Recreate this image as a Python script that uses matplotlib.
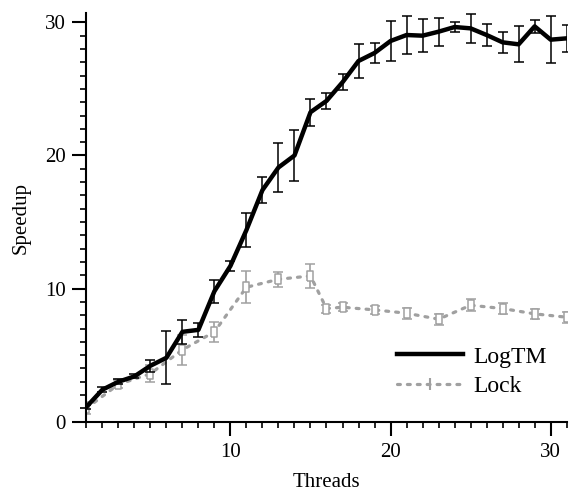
import matplotlib
matplotlib.use("Agg")
import matplotlib.pyplot as plt
from matplotlib.lines import Line2D
from matplotlib.ticker import MultipleLocator

plt.rcParams['font.family'] = ['Liberation Serif', 'DejaVu Serif']

# LogTM: measured at every thread count
logtm_x = list(range(1, 32))
logtm_y = [1.1, 2.4, 3.0, 3.4, 4.2, 4.8, 6.75, 6.9, 9.8, 11.7,
           14.4, 17.4, 19.1, 20.0, 23.25, 24.1, 25.5, 27.1, 27.7, 28.6,
           29.05, 29.0, 29.3, 29.65, 29.55, 29.05, 28.5, 28.35, 29.7, 28.7,
           28.8]
logtm_err = [0.15, 0.2, 0.2, 0.15, 0.45, 2.0, 0.9, 0.5, 0.85, 0.37,
             1.3, 1.0, 1.85, 1.95, 1.0, 0.6, 0.6, 1.3, 0.75, 1.5,
             1.45, 1.25, 1.05, 0.4, 1.1, 0.85, 0.8, 1.35, 0.5, 1.75,
             1.0]

# Lock
lock_x = [1, 3, 5, 7, 9, 11, 13, 15, 16, 17, 19, 21, 23, 25, 27, 29, 31]
lock_y = [1.0, 2.8, 3.6, 5.4, 6.75, 10.1, 10.7, 10.95, 8.5, 8.6,
          8.4, 8.15, 7.7, 8.75, 8.5, 8.1, 7.85]
lock_err = [0.45, 0.3, 0.65, 1.15, 0.75, 1.2, 0.55, 0.9, 0.3, 0.3,
            0.3, 0.4, 0.4, 0.45, 0.4, 0.35, 0.4]

gray = "#a0a0a0"
rect = [(-0.5, -1), (0.5, -1), (0.5, 1), (-0.5, 1), (-0.5, -1)]
lock_ls = (0, (0.9, 2.2))

fig = plt.figure(figsize=(5.72, 4.95), dpi=100)
ax = fig.add_axes([0.1509, 0.1481, 0.9907 - 0.1509, 0.9731 - 0.1481])

ax.errorbar(lock_x, lock_y, yerr=lock_err, color=gray, lw=2.3,
            linestyle=lock_ls, dash_capstyle='round',
            marker=rect, markersize=7.5, markerfacecolor='white',
            markeredgecolor=gray, markeredgewidth=1.1,
            ecolor=gray, elinewidth=1.2, capsize=3.6, capthick=1.2,
            zorder=2)
ax.errorbar(logtm_x, logtm_y, yerr=logtm_err, color='black', lw=3.2,
            ecolor='black', elinewidth=1.1, capsize=3.4, capthick=1.1,
            zorder=3)

ax.set_xlim(1, 31)
ax.set_ylim(0, 30.68)
ax.xaxis.set_major_locator(MultipleLocator(10))
ax.xaxis.set_minor_locator(MultipleLocator(1))
ax.yaxis.set_major_locator(MultipleLocator(10))
ax.yaxis.set_minor_locator(MultipleLocator(1))

for s in ['top', 'right']:
    ax.spines[s].set_visible(False)
for s in ['left', 'bottom']:
    ax.spines[s].set_linewidth(1.5)

ax.tick_params(which='major', direction='out', length=10, width=1.5,
               labelsize=15, pad=5)
ax.tick_params(which='minor', direction='out', length=4.5, width=1.2)

ax.set_xlabel("Threads", fontsize=15, labelpad=8)
ax.set_ylabel("Speedup", fontsize=15, labelpad=10)

# legend proxies: plain line for LogTM, dotted line with a tick for Lock
h_logtm = Line2D([], [], color='black', lw=3.2)
h_lock = Line2D([], [], color=gray, lw=2.3, linestyle=lock_ls,
                dash_capstyle='round', marker='|', markersize=9,
                markeredgewidth=1.5)
ax.legend([h_logtm, h_lock], ["LogTM", "Lock"], loc='upper left',
          bbox_to_anchor=(397 / 572, 1 - 346 / 495),
          bbox_transform=fig.transFigure, frameon=False, fontsize=17,
          handlelength=2.8, handletextpad=0.42, labelspacing=0.35,
          borderpad=0, borderaxespad=0)

fig.savefig("out.png")
